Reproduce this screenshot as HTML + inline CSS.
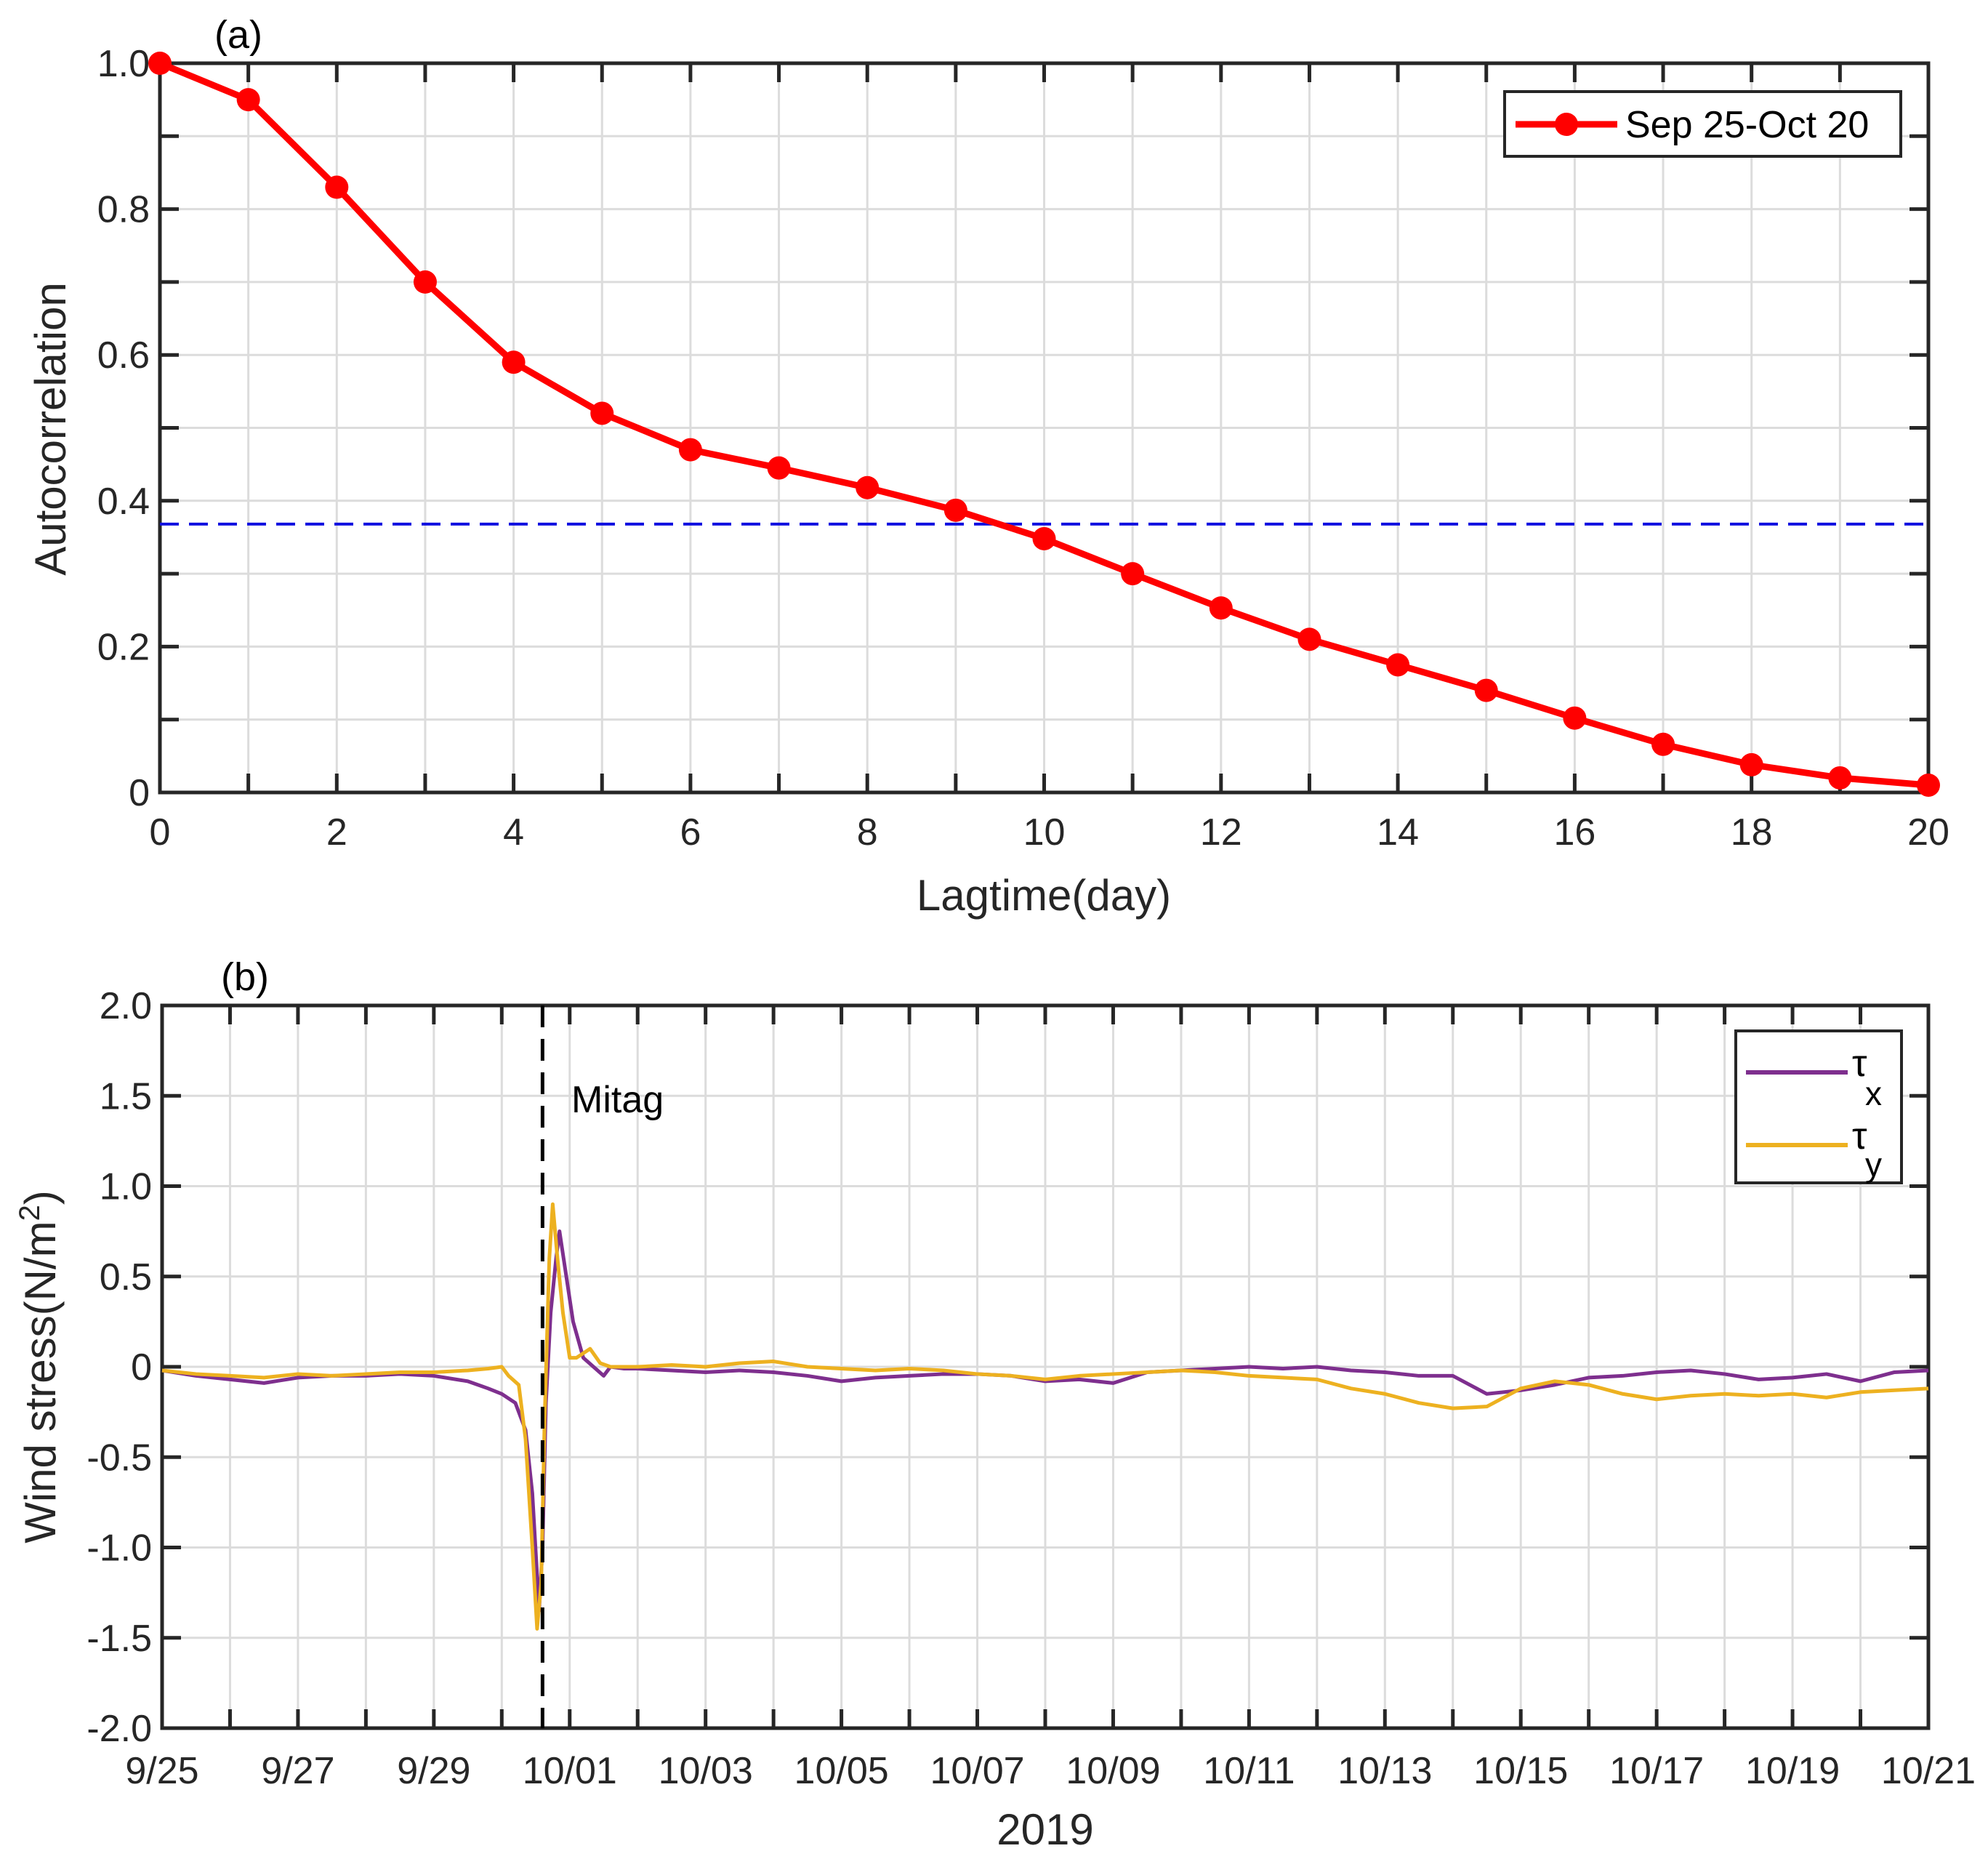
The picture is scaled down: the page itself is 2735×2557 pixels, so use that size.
<!DOCTYPE html>
<html><head><meta charset="utf-8"><style>
html,body{margin:0;padding:0;background:#fff;}
svg{display:block;font-family:"Liberation Sans",Arial,sans-serif;}
</style></head><body>
<svg id="chart" width="2735" height="2557" viewBox="0 0 2735 2557" xmlns="http://www.w3.org/2000/svg">
<rect width="2735" height="2557" fill="#fff"/>
<g id="pa"></g>
<g id="pb"></g>
</svg>
<script>
// Panel (a) data
const lagDays = [0,1,2,3,4,5,6,7,8,9,10,11,12,13,14,15,16,17,18,19,20];
const autocorr = [1.0,0.95,0.83,0.70,0.59,0.52,0.47,0.445,0.418,0.387,0.348,0.30,0.253,0.21,0.175,0.14,0.102,0.066,0.038,0.02,0.01];
const efoldLevel = 0.368;
const aYTicks = [0,0.2,0.4,0.6,0.8,1.0];
const aYTickLabels = ["0","0.2","0.4","0.6","0.8","1.0"];
const aXTicks = [0,2,4,6,8,10,12,14,16,18,20];
// Panel (b) data (days since 9/25 00:00)
const bXTicks = [0,2,4,6,8,10,12,14,16,18,20,22,24,26];
const bXTickLabels = ["9/25","9/27","9/29","10/01","10/03","10/05","10/07","10/09","10/11","10/13","10/15","10/17","10/19","10/21"];
const bYTicks = [-2,-1.5,-1,-0.5,0,0.5,1,1.5,2];
const bYTickLabels = ["-2.0","-1.5","-1.0","-0.5","0","0.5","1.0","1.5","2.0"];
const mitagDay = 5.6;
const txTime = [0,0.5,1,1.5,2,2.5,3,3.5,4,4.5,4.8,5.0,5.2,5.35,5.45,5.55,5.6,5.65,5.72,5.8,5.85,5.95,6.05,6.2,6.35,6.5,6.6,6.8,7,7.5,8,8.5,9,9.5,10,10.5,11,11.5,12,12.5,13,13.5,14,14.5,15,15.5,16,16.5,17,17.5,18,18.5,19,19.5,20,20.5,21,21.5,22,22.5,23,23.5,24,24.5,25,25.5,26];
const txVal = [-0.02,-0.05,-0.07,-0.09,-0.06,-0.05,-0.05,-0.04,-0.05,-0.08,-0.12,-0.15,-0.2,-0.35,-0.7,-1.35,-1.0,-0.2,0.3,0.6,0.75,0.5,0.25,0.05,0.0,-0.05,0.0,-0.01,-0.01,-0.02,-0.03,-0.02,-0.03,-0.05,-0.08,-0.06,-0.05,-0.04,-0.04,-0.05,-0.08,-0.07,-0.09,-0.03,-0.02,-0.01,0.0,-0.01,0.0,-0.02,-0.03,-0.05,-0.05,-0.15,-0.13,-0.1,-0.06,-0.05,-0.03,-0.02,-0.04,-0.07,-0.06,-0.04,-0.08,-0.03,-0.02];
const tyTime = [0,0.5,1,1.5,2,2.5,3,3.5,4,4.5,4.8,5.0,5.1,5.25,5.35,5.45,5.52,5.58,5.63,5.7,5.75,5.82,5.9,6.0,6.1,6.3,6.45,6.6,7,7.5,8,8.5,9,9.5,10,10.5,11,11.5,12,12.5,13,13.5,14,14.5,15,15.5,16,16.5,17,17.5,18,18.5,19,19.5,20,20.5,21,21.5,22,22.5,23,23.5,24,24.5,25,25.5,26];
const tyVal = [-0.02,-0.04,-0.05,-0.06,-0.04,-0.05,-0.04,-0.03,-0.03,-0.02,-0.01,0.0,-0.05,-0.1,-0.4,-1.0,-1.45,-1.2,-0.3,0.6,0.9,0.6,0.3,0.05,0.05,0.1,0.02,0.0,0.0,0.01,0.0,0.02,0.03,0.0,-0.01,-0.02,-0.01,-0.02,-0.04,-0.05,-0.07,-0.05,-0.04,-0.03,-0.02,-0.03,-0.05,-0.06,-0.07,-0.12,-0.15,-0.2,-0.23,-0.22,-0.12,-0.08,-0.1,-0.15,-0.18,-0.16,-0.15,-0.16,-0.15,-0.17,-0.14,-0.13,-0.12];

const NS="http://www.w3.org/2000/svg";
function mk(parent,tag,attrs,text){const e=document.createElementNS(NS,tag);for(const k in attrs)e.setAttribute(k,attrs[k]);if(text!==undefined)e.textContent=text;parent.appendChild(e);return e;}
const TF=52, TT=60;

// ---------- Panel A ----------
const pa=document.getElementById('pa');
const A={l:220,r:2653,t:87,b:1090};
const ax=v=>A.l+(v-0)/(20-0)*(A.r-A.l);
const ay=v=>A.b-(v-0)/(1-0)*(A.b-A.t);
for(let i=0;i<=20;i++){const g=mk(pa,'line',{x1:ax(i),x2:ax(i),y1:A.t,y2:A.b,stroke:'#dcdcdc','stroke-width':3});

mk(pa,'line',{x1:ax(i),x2:ax(i),y1:A.b,y2:A.b-26,stroke:'#262626','stroke-width':5});
mk(pa,'line',{x1:ax(i),x2:ax(i),y1:A.t,y2:A.t+26,stroke:'#262626','stroke-width':5});}
for(let i=0;i<=10;i++){const v=i/10;const g=mk(pa,'line',{x1:A.l,x2:A.r,y1:ay(v),y2:ay(v),stroke:'#dcdcdc','stroke-width':3});

mk(pa,'line',{x1:A.l,x2:A.l+26,y1:ay(v),y2:ay(v),stroke:'#262626','stroke-width':5});
mk(pa,'line',{x1:A.r,x2:A.r-26,y1:ay(v),y2:ay(v),stroke:'#262626','stroke-width':5});}
mk(pa,'rect',{x:A.l,y:A.t,width:A.r-A.l,height:A.b-A.t,fill:'none',stroke:'#262626','stroke-width':5});
aYTicks.forEach((v,i)=>{const t=mk(pa,'text',{x:A.l-14,y:ay(v)+18,'text-anchor':'end','font-size':TF,fill:'#262626'},aYTickLabels[i]);
});
aXTicks.forEach(v=>{const t=mk(pa,'text',{x:ax(v),y:A.b+72,'text-anchor':'middle','font-size':TF,fill:'#262626'},String(v));
});
let el;
el=mk(pa,'line',{x1:A.l,x2:A.r,y1:ay(efoldLevel),y2:ay(efoldLevel),stroke:'#1010e0','stroke-width':4,'stroke-dasharray':'26,14'});

el=mk(pa,'polyline',{points:lagDays.map((d,i)=>ax(d)+','+ay(autocorr[i])).join(' '),fill:'none',stroke:'#ff0000','stroke-width':9,'stroke-linejoin':'round'});

lagDays.forEach((d,i)=>{const c=mk(pa,'circle',{cx:ax(d),cy:ay(autocorr[i]),r:16,fill:'#ff0000'});
});
el=mk(pa,'text',{x:328,y:66,'text-anchor':'middle','font-size':54,fill:'#000'},'(a)');

el=mk(pa,'text',{x:0,y:0,'text-anchor':'middle','font-size':TT,fill:'#262626',transform:'translate(90,590) rotate(-90)'},'Autocorrelation');

el=mk(pa,'text',{x:1436,y:1252,'text-anchor':'middle','font-size':TT,fill:'#262626'},'Lagtime(day)');

const lga=mk(pa,'g',{});
mk(lga,'rect',{x:2070,y:126,width:545,height:89,fill:'#fff',stroke:'#262626','stroke-width':4});
mk(lga,'line',{x1:2085,x2:2225,y1:171,y2:171,stroke:'#ff0000','stroke-width':9});
mk(lga,'circle',{cx:2155,cy:171,r:16,fill:'#ff0000'});
mk(lga,'text',{x:2236,y:189,'font-size':52,fill:'#000'},'Sep 25-Oct 20');

// ---------- Panel B ----------
const pb=document.getElementById('pb');
const B={l:223,r:2653,t:1383,b:2377};
const bx=v=>B.l+v/26*(B.r-B.l);
const by=v=>B.b-(v+2)/4*(B.b-B.t);
for(let i=0;i<=26;i++){const g=mk(pb,'line',{x1:bx(i),x2:bx(i),y1:B.t,y2:B.b,stroke:'#dcdcdc','stroke-width':3});

mk(pb,'line',{x1:bx(i),x2:bx(i),y1:B.b,y2:B.b-26,stroke:'#262626','stroke-width':5});
mk(pb,'line',{x1:bx(i),x2:bx(i),y1:B.t,y2:B.t+26,stroke:'#262626','stroke-width':5});}
bYTicks.forEach(v=>{const g=mk(pb,'line',{x1:B.l,x2:B.r,y1:by(v),y2:by(v),stroke:'#dcdcdc','stroke-width':3});

mk(pb,'line',{x1:B.l,x2:B.l+26,y1:by(v),y2:by(v),stroke:'#262626','stroke-width':5});
mk(pb,'line',{x1:B.r,x2:B.r-26,y1:by(v),y2:by(v),stroke:'#262626','stroke-width':5});});
mk(pb,'rect',{x:B.l,y:B.t,width:B.r-B.l,height:B.b-B.t,fill:'none',stroke:'#262626','stroke-width':5});
bYTicks.forEach((v,i)=>{const t=mk(pb,'text',{x:B.l-14,y:by(v)+18,'text-anchor':'end','font-size':TF,fill:'#262626'},bYTickLabels[i]);
});
bXTicks.forEach((v,i)=>{const t=mk(pb,'text',{x:bx(v),y:B.b+76,'text-anchor':'middle','font-size':TF,fill:'#262626'},bXTickLabels[i]);
});
el=mk(pb,'polyline',{points:txTime.map((d,i)=>bx(d)+','+by(txVal[i])).join(' '),fill:'none',stroke:'#7e2f8e','stroke-width':5,'stroke-linejoin':'round'});

el=mk(pb,'polyline',{points:tyTime.map((d,i)=>bx(d)+','+by(tyVal[i])).join(' '),fill:'none',stroke:'#edb120','stroke-width':5,'stroke-linejoin':'round'});

el=mk(pb,'line',{x1:bx(mitagDay),x2:bx(mitagDay),y1:B.t,y2:B.b,stroke:'#000','stroke-width':5,'stroke-dasharray':'30,16'});

el=mk(pb,'text',{x:786,y:1530,'font-size':52,fill:'#000'},'Mitag');

el=mk(pb,'text',{x:337,y:1362,'text-anchor':'middle','font-size':54,fill:'#000'},'(b)');

el=mk(pb,'text',{x:0,y:0,'text-anchor':'middle','font-size':TT,fill:'#262626',transform:'translate(76,1880) rotate(-90)'});

el.appendChild(document.createTextNode('Wind stress(N/m'));
mk(el,'tspan',{dy:-22,'font-size':40},'2');
mk(el,'tspan',{dy:22},')');
el=mk(pb,'text',{x:1438,y:2537,'text-anchor':'middle','font-size':TT,fill:'#262626'},'2019');

const lgb=mk(pb,'g',{});
mk(lgb,'rect',{x:2388,y:1418,width:228,height:209,fill:'#fff',stroke:'#262626','stroke-width':4});
mk(lgb,'line',{x1:2402,x2:2542,y1:1475,y2:1475,stroke:'#7e2f8e','stroke-width':6});
mk(lgb,'text',{x:2548,y:1480,'font-size':52,fill:'#000'},'τ');
mk(lgb,'text',{x:2566,y:1520,'font-size':46,fill:'#000'},'x');
mk(lgb,'line',{x1:2402,x2:2542,y1:1575,y2:1575,stroke:'#edb120','stroke-width':6});
mk(lgb,'text',{x:2548,y:1580,'font-size':52,fill:'#000'},'τ');
mk(lgb,'text',{x:2566,y:1618,'font-size':46,fill:'#000'},'y');
</script>
</body></html>
